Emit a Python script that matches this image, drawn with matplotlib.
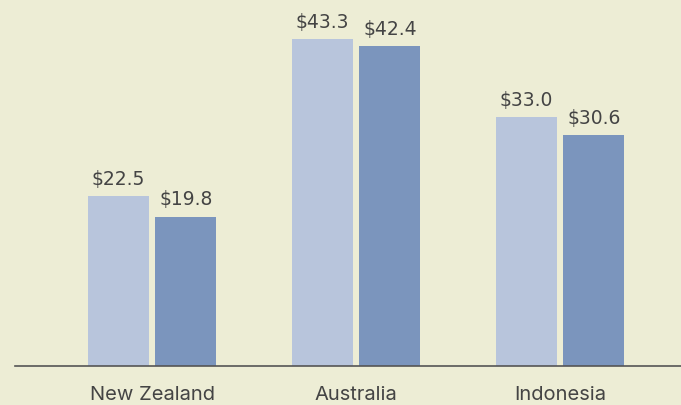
import matplotlib.pyplot as plt
import numpy as np

countries = ["New Zealand", "Australia", "Indonesia"]
first_values = [22.5, 43.3, 33.0]
second_values = [19.8, 42.4, 30.6]

BG = "#ededd5"
LIGHT = "#b8c5dc"
DARK = "#7b95bd"
TEXT = "#444444"

plt.rcParams["font.family"] = ["Inter", "DejaVu Sans"]

fig = plt.figure(figsize=(6.81, 4.05), dpi=100, facecolor=BG)
ax = fig.add_axes([15 / 681, 39 / 405, 666 / 681, 366 / 405])
ax.set_facecolor(BG)

x = np.arange(len(countries))
width = 0.299
offset = 0.166

bars1 = ax.bar(x - offset, first_values, width, color=LIGHT)
bars2 = ax.bar(x + offset, second_values, width, color=DARK)

for bars, vals in ((bars1, first_values), (bars2, second_values)):
    for b, v in zip(bars, vals):
        ax.annotate(f"${v:.1f}", (b.get_x() + b.get_width() / 2, v),
                    xytext=(0, 8), textcoords="offset points",
                    ha="center", va="baseline", fontsize=13.5, color=TEXT,
                    family="DejaVu Sans")

ax.set_xlim(-0.672, 2.593)
ax.set_ylim(0, 48.5)
ax.set_xticks(x)
ax.set_xticklabels(countries, fontsize=14.5, color=TEXT)
ax.tick_params(axis="x", length=0, pad=14.5)
ax.set_yticks([])
for side in ("top", "right", "left"):
    ax.spines[side].set_visible(False)
ax.spines["bottom"].set_color("#555555")
ax.spines["bottom"].set_linewidth(1.2)

fig.savefig("out.png", dpi=100, facecolor=BG)
